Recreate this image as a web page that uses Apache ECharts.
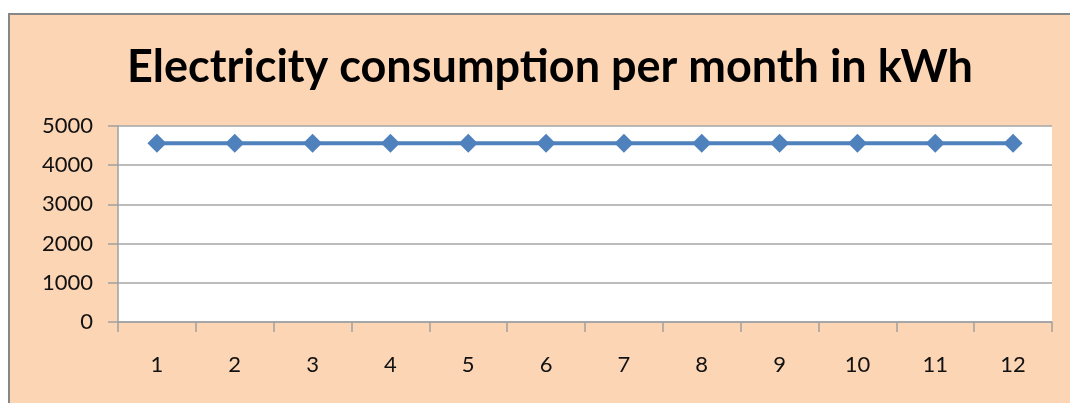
<!DOCTYPE html>
<html>
<head>
<meta charset="utf-8">
<script src="https://cdn.jsdelivr.net/npm/echarts@6/dist/echarts.min.js"></script>
<style>
    html, body { margin:0; padding:0; background:#fff; }
    #box {
        position:absolute; left:8px; top:13px; width:1062px; height:390px;
        border-top:2px solid #878787; border-left:2px solid #878787;
        background:#FCD5B5;
    }
    #chart { width:1060px; height:388px; }
</style>
</head>
<body>
<div id="box"><div id="chart"></div></div>
<script>
// 月份和用电量
var months = ['1','2','3','4','5','6','7','8','9','10','11','12'];
var kwh = [4560,4560,4560,4560,4560,4560,4560,4560,4560,4560,4560,4560];
var yTicks = [0,1000,2000,3000,4000,5000];

var chart = echarts.init(document.getElementById('chart'));

var option = {
    animation: false,
    title: {
        text: 'Electricity consumption per month in kWh',
        left: 535,
        textAlign: 'center',
        top: 25,
        textStyle: {
            fontFamily: 'Lato',
            fontWeight: 'bold',
            fontSize: 45,
            color: '#000'
        }
    },
    grid: {
        left: 108, top: 111, width: 934, height: 196,
        show: true, backgroundColor: '#fff', borderWidth: 0
    },
    xAxis: {
        type: 'category',
        data: months,
        boundaryGap: true,
        axisLine: { lineStyle: { color: '#A0A0A0', width: 1.5 } },
        axisTick: { show: true, length: 10, lineStyle: { color: '#A0A0A0', width: 1.5 } },
        axisLabel: { margin: 32, fontFamily: 'Lato', fontSize: 22, color: '#111' }
    },
    yAxis: {
        type: 'value',
        min: yTicks[0],
        max: yTicks[yTicks.length - 1],
        interval: 1000,
        axisLine: { show: true, lineStyle: { color: '#A0A0A0', width: 1.5 } },
        axisTick: { show: true, length: 10, lineStyle: { color: '#A0A0A0', width: 1.5 } },
        splitLine: { lineStyle: { color: '#A6A6A6', width: 1.5 } },
        axisLabel: {
            margin: 25, fontFamily: 'Lato', fontSize: 22, color: '#111',
            formatter: function (v) { return String(v); }
        }
    },
    series: [{
        name: 'kWh',
        type: 'line',
        data: kwh,
        symbol: 'diamond',
        symbolSize: 19,
        lineStyle: { color: '#4F81BD', width: 4 },
        itemStyle: { color: '#4F81BD' }
    }]
};
chart.setOption(option);
</script>
</body>
</html>
